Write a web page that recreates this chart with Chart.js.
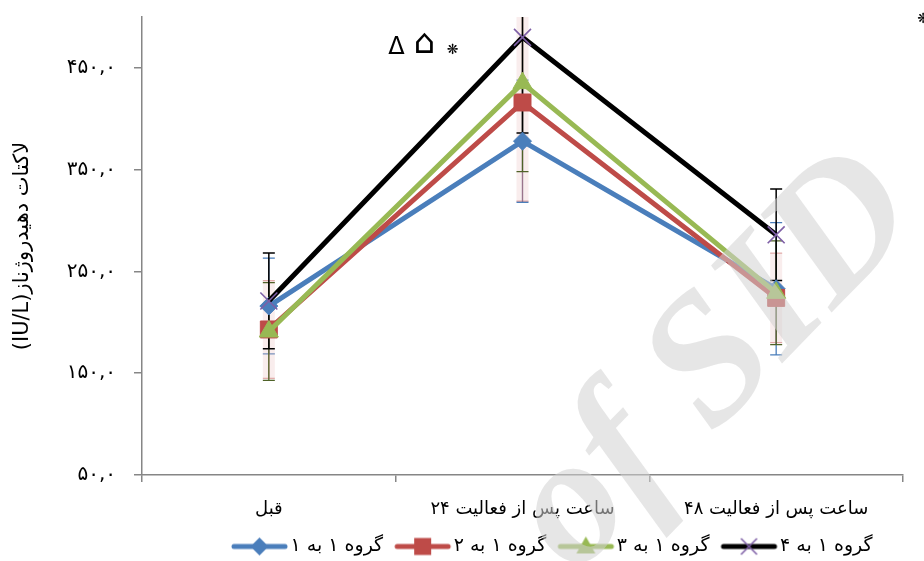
<!DOCTYPE html>
<html>
<head>
<meta charset="utf-8">
<script src="https://cdn.jsdelivr.net/npm/chart.js@4/dist/chart.umd.min.js"></script>
<style>
  html, body { margin: 0; padding: 0; background: #ffffff; }
  #wrap { width: 924px; height: 561px; position: relative; }
</style>
</head>
<body>
<div id="wrap"><canvas id="chart"></canvas></div>
<script>
// Time points
const categories = ['قبل', '۲۴ ساعت پس از فعالیت', '۴۸ ساعت پس از فعالیت'];

// Group names
const seriesNames = ['گروه ۱ به ۱', 'گروه ۱ به ۲', 'گروه ۱ به ۳', 'گروه ۱ به ۴'];

// Mean LDH (IU/L) per group
const group1to1 = [216, 378, 233];
const group1to2 = [193, 416, 224];
const group1to3 = [191, 435, 229];
const group1to4 = [221, 480, 286];

// Standard deviations
const sd1to1 = [47, 60, 65];
const sd1to2 = [48, 97, 44];
const sd1to3 = [48, 87, 51];
const sd1to4 = [47, 94, 45];

// Y axis ticks
const yTickValues = [50, 150, 250, 350, 450];
const yTickLabels = ['۵۰,۰', '۱۵۰,۰', '۲۵۰,۰', '۳۵۰,۰', '۴۵۰,۰'];
const yTitle = '(IU/L)لاکتات دهیدروژناز';

// Significance marks above the 24 h point
const sigMarks = ['Δ', '⌂', '❋'];

const FONT = '"DejaVu Sans", sans-serif';

const BLUE = '#4a7ebb', RED = '#be4b48', GREEN = '#98b954', BLACK = '#000000', PURPLE = '#7e5fa6';

// Legend swatches: a thick line with the marker in its middle,
// set towards the right of the swatch so it sits close to its text
function makeIcon(lineColor, marker) {
  const c = document.createElement('canvas');
  c.width = 72; c.height = 22;
  const g = c.getContext('2d');
  g.lineCap = 'round';
  g.strokeStyle = lineColor;
  g.lineWidth = 5;
  g.beginPath(); g.moveTo(17, 11); g.lineTo(68, 11); g.stroke();
  const cx = 42.5, cy = 11;
  g.beginPath();
  if (marker === 'diamond') {
    g.fillStyle = lineColor;
    g.moveTo(cx, cy - 9); g.lineTo(cx + 9, cy); g.lineTo(cx, cy + 9); g.lineTo(cx - 9, cy); g.closePath(); g.fill();
  } else if (marker === 'square') {
    g.fillStyle = lineColor;
    g.fillRect(cx - 8.5, cy - 8.5, 17, 17);
  } else if (marker === 'triangle') {
    g.fillStyle = lineColor;
    g.moveTo(cx, cy - 10); g.lineTo(cx + 9.5, cy + 7); g.lineTo(cx - 9.5, cy + 7); g.closePath(); g.fill();
  } else if (marker === 'x') {
    g.strokeStyle = PURPLE; g.lineWidth = 1.6; g.lineCap = 'butt';
    g.moveTo(cx - 8, cy - 8); g.lineTo(cx + 8, cy + 8);
    g.moveTo(cx + 8, cy - 8); g.lineTo(cx - 8, cy + 8); g.stroke();
  }
  return c;
}
const legendIcons = [
  makeIcon(BLUE, 'diamond'),
  makeIcon(RED, 'square'),
  makeIcon(GREEN, 'triangle'),
  makeIcon(BLACK, 'x')
];

// Error bar look per group
const errStyles = [
  { color: BLUE, width: 1.3 },
  { color: 'rgba(192,80,77,0.45)', width: 1.3, halo: 'rgba(235,195,195,0.3)' },
  { color: '#4f6228', width: 1.3 },
  { color: BLACK, width: 1.5 }
];

const errorBars = {
  id: 'errorBars',
  beforeDatasetsDraw(chart) {
    const { ctx, chartArea, scales: { y } } = chart;
    ctx.save();
    ctx.beginPath();
    ctx.rect(chartArea.left, chartArea.top, chartArea.width, chartArea.height);
    ctx.clip();
    chart.data.datasets.forEach((ds, i) => {
      const meta = chart.getDatasetMeta(i);
      const st = errStyles[i];
      meta.data.forEach((pt, j) => {
        const v = ds.data[j], e = ds.errors[j];
        const yt = y.getPixelForValue(v + e), yb = y.getPixelForValue(v - e);
        const x = pt.x;
        if (st.halo) {
          ctx.fillStyle = st.halo;
          ctx.fillRect(x - 6, yt, 12, yb - yt);
        }
        ctx.strokeStyle = st.color;
        ctx.lineWidth = st.width;
        ctx.beginPath();
        ctx.moveTo(x, yt); ctx.lineTo(x, yb);
        ctx.moveTo(x - 6, yt); ctx.lineTo(x + 6, yt);
        ctx.moveTo(x - 6, yb); ctx.lineTo(x + 6, yb);
        ctx.stroke();
      });
    });
    ctx.restore();
  }
};

// Significance symbols and the faint diagonal watermark
const overlay = {
  id: 'overlay',
  afterDraw(chart) {
    const { ctx, scales: { x } } = chart;
    const px = x.getPixelForValue(1);
    ctx.save();
    ctx.fillStyle = '#000';
    ctx.textBaseline = 'alphabetic';
    ctx.textAlign = 'center';
    ctx.font = '24px ' + FONT;
    ctx.fillText(sigMarks[0], px - 126, 54);
    ctx.font = '34px ' + FONT;
    ctx.fillText(sigMarks[1], px - 98, 53);
    ctx.font = '14px ' + FONT;
    ctx.fillText(sigMarks[2], px - 70, 54);
    ctx.fillText(sigMarks[2], chart.width - 1, 23);

    ctx.translate(716, 364);
    ctx.rotate(-0.8);
    ctx.font = 'italic bold 182px "Liberation Serif", serif';
    ctx.fillStyle = 'rgba(210,210,210,0.55)';
    ctx.textAlign = 'center';
    ctx.textBaseline = 'middle';
    ctx.fillText('of SID', 0, 0);
    ctx.restore();
  }
};

// Slide the legend row to its place under the plot
const legendPlacement = {
  id: 'legendPlacement',
  afterLayout(chart) {
    const lg = chart.legend;
    const dx = 220 - lg.left;
    lg.left += dx; lg.right += dx;
    lg.top += 5; lg.bottom += 5;
  }
};

const seriesValues = [group1to1, group1to2, group1to3, group1to4];
const seriesErrors = [sd1to1, sd1to2, sd1to3, sd1to4];
const lineColors = [BLUE, RED, GREEN, BLACK];
const pointStyles = ['rectRot', 'rect', 'triangle', 'crossRot'];
const pointRadii = [9, 12, 11, 12];

const datasets = seriesNames.map((name, i) => ({
  label: name,
  data: seriesValues[i],
  errors: seriesErrors[i],
  borderColor: lineColors[i],
  backgroundColor: lineColors[i],
  borderWidth: 5,
  pointStyle: pointStyles[i],
  pointRadius: pointRadii[i],
  pointHoverRadius: pointRadii[i],
  pointBackgroundColor: i === 3 ? PURPLE : lineColors[i],
  pointBorderColor: i === 3 ? PURPLE : lineColors[i],
  pointBorderWidth: i === 3 ? 1.6 : 1,
  tension: 0,
  order: 4 - i,
  clip: false
}));

new Chart(document.getElementById('chart'), {
  type: 'line',
  data: { labels: categories, datasets },
  plugins: [errorBars, overlay, legendPlacement],
  options: {
    responsive: true,
    maintainAspectRatio: false,
    animation: false,
    layout: { padding: { top: 17, right: 21, left: 0, bottom: 0 } },
    plugins: {
      tooltip: { enabled: false },
      legend: {
        position: 'bottom',
        align: 'start',
        labels: {
          usePointStyle: true,
          pointStyleWidth: 56,
          padding: 5,
          color: '#000',
          font: { family: FONT, size: 19 },
          sort: (a, b) => a.datasetIndex - b.datasetIndex,
          generateLabels: (chart) => {
            const items = Chart.defaults.plugins.legend.labels.generateLabels(chart);
            items.forEach(it => { it.pointStyle = legendIcons[it.datasetIndex]; });
            return items;
          }
        }
      }
    },
    scales: {
      x: {
        offset: true,
        grid: { offset: true, drawOnChartArea: false, tickLength: 7, color: '#868686', lineWidth: 1.5 },
        border: { color: '#868686', width: 1.5 },
        ticks: { color: '#000', font: { family: FONT, size: 18 }, padding: 17, maxRotation: 0, autoSkip: false },
        afterFit: (s) => { s.height = 52; }
      },
      y: {
        min: 50,
        max: 500,
        afterBuildTicks: (s) => { s.ticks = yTickValues.map(v => ({ value: v })); },
        afterFit: (s) => { s.width = 142; s.paddingTop = 0; s.paddingBottom = 0; },
        grid: { drawOnChartArea: false, tickLength: 8, color: '#868686', lineWidth: 1.5 },
        border: { color: '#868686', width: 1.5 },
        ticks: {
          color: '#000',
          font: { family: FONT, size: 20 },
          padding: 18,
          callback: (v) => yTickLabels[yTickValues.indexOf(v)]
        },
        title: {
          display: true,
          text: yTitle,
          color: '#000',
          font: { family: FONT, size: 21 },
          padding: { top: 10, bottom: 0 }
        }
      }
    }
  }
});
</script>
</body>
</html>
